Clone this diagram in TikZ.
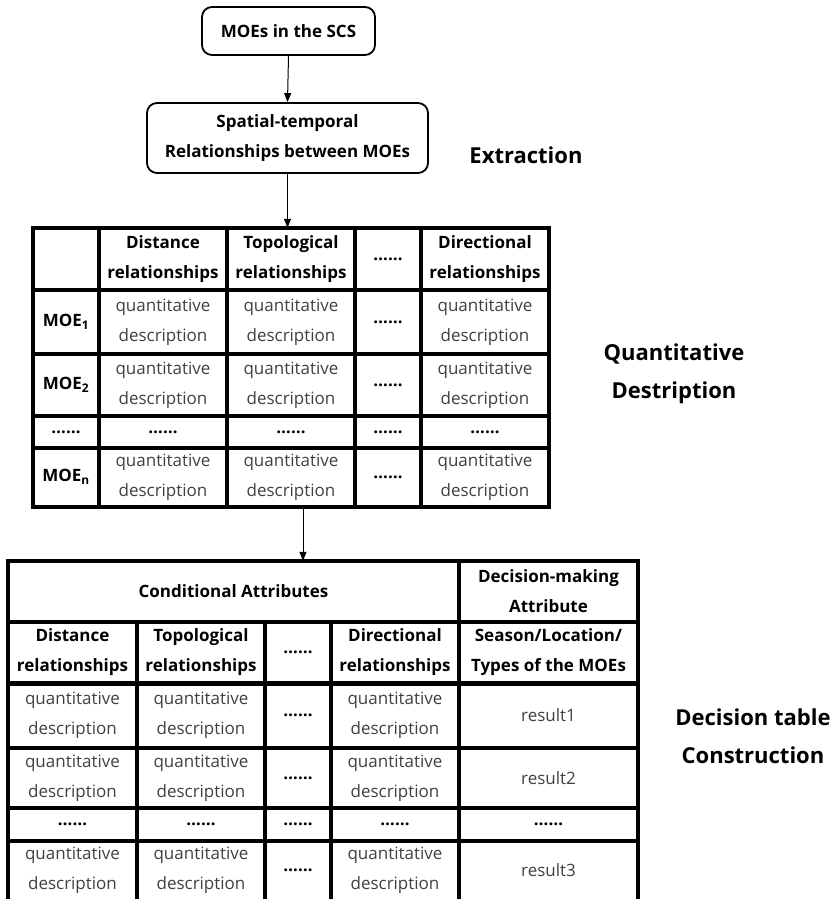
\documentclass[tikz,border=0pt]{standalone}
\usepackage{fontspec}
\setmainfont{Open Sans}
\usetikzlibrary{arrows.meta}
\tikzset{
  box/.style={draw, line width=1.8pt, rounded corners=10pt, font=\bfseries\fontsize{17}{30}\selectfont, align=center, inner sep=0pt},
  hd/.style={font=\bfseries\fontsize{17}{30}\selectfont, align=center, inner sep=0pt},
  qd/.style={font=\fontsize{17}{30}\selectfont, align=center, text=black!75, inner sep=0pt},
  lab/.style={font=\bfseries\fontsize{22}{38}\selectfont, align=center, inner sep=0pt},
  gridline/.style={line width=3.2pt},
  arr/.style={-{Triangle[length=9pt,width=7pt]}, line width=1pt},
  tbl/.style={inner sep=0pt, draw=none}
}
\begin{document}
\begin{tikzpicture}[x=1pt,y=1pt]
\useasboundingbox (0,0) rectangle (834,-899);

% top boxes
\node[box, minimum width=173pt, minimum height=48pt] (b1) at (288.5,-31) {MOEs in the SCS};
\node[box, minimum width=281pt, minimum height=70pt] (b2) at (287.5,-138) {Spatial-temporal\\Relationships between MOEs};
\node[lab] (lext) at (526,-155) {Extraction};

% table 1 frame node
\node[tbl, minimum width=516pt, minimum height=279pt] (t1) at (291,-367.5) {};
\draw[gridline] (33,-228) rectangle (549,-507);
\foreach \x in {99,227,355,421} \draw[gridline] (\x,-228) -- (\x,-507);
\foreach \y in {290,354,416,448} \draw[gridline] (33,-\y) -- (549,-\y);

\node[hd] (h2) at (163,-259) {Distance\\relationships};
\node[hd] (h3) at (291,-259) {Topological\\relationships};
\node[hd] (h4) at (388,-259) {……};
\node[hd] (h5) at (485,-259) {Directional\\relationships};
\foreach \y/\m [count=\i] in {322/1,385/2,477/n} {
  \node[hd] (m\i) at (66,-\y) {MOE\textsubscript{\m}};
  \foreach \x [count=\j] in {163,291,485} \node[qd] (q\i-\j) at (\x,-\y) {quantitative\\description};
  \node[hd] (d\i) at (388,-\y) {……};
}
\foreach \x [count=\j] in {66,163,291,388,485} \node[hd] (e\j) at (\x,-432) {……};

\node[lab] (lqd) at (674,-374) {Quantitative\\Destription};

% table 2 frame node
\node[tbl, minimum width=630pt, minimum height=338pt] (t2) at (323,-730) {};
\draw[gridline, line width=3.5pt] (8,-905) -- (8,-561) -- (638,-561) -- (638,-905);
\draw[gridline] (459,-561) -- (459,-905);
\foreach \x in {137,265,331} \draw[gridline] (\x,-622) -- (\x,-905);
\foreach \y in {622,748,808,841} \draw[gridline] (8,-\y) -- (638,-\y);
\draw[line width=5pt] (8,-683) -- (638,-683);

\node[hd] (c1) at (233.5,-591.5) {Conditional Attributes};
\node[hd] (c2) at (548.5,-591.5) {Decision-making\\Attribute};
\node[hd] (g1) at (72.5,-652.5) {Distance\\relationships};
\node[hd] (g2) at (201,-652.5) {Topological\\relationships};
\node[hd] (g3) at (298,-652.5) {……};
\node[hd] (g4) at (395,-652.5) {Directional\\relationships};
\node[hd] (g5) at (548.5,-652.5) {Season/Location/\\Types of the MOEs};
\foreach \y/\r [count=\i] in {715.5/1,778/2,870/3} {
  \foreach \x [count=\j] in {72.5,201,395} \node[qd] (r\i-\j) at (\x,-\y) {quantitative\\description};
  \node[hd] (s\i) at (298,-\y) {……};
  \node[qd] (res\i) at (548.5,-\y) {result\r};
}
\foreach \x [count=\j] in {72.5,201,298,395,548.5} \node[hd] (f\j) at (\x,-824.5) {……};

\node[lab] (ldt) at (753,-736) {Decision table\\Construction};

% connectors
\draw[arr] (b1.south) -- (b2.north);
\draw[arr] (b2.south) -- (b2.south |- t1.north);
\coordinate (a3) at (303,-507);
\draw[arr] (a3) -- (a3 |- t2.north);
\end{tikzpicture}
\end{document}
